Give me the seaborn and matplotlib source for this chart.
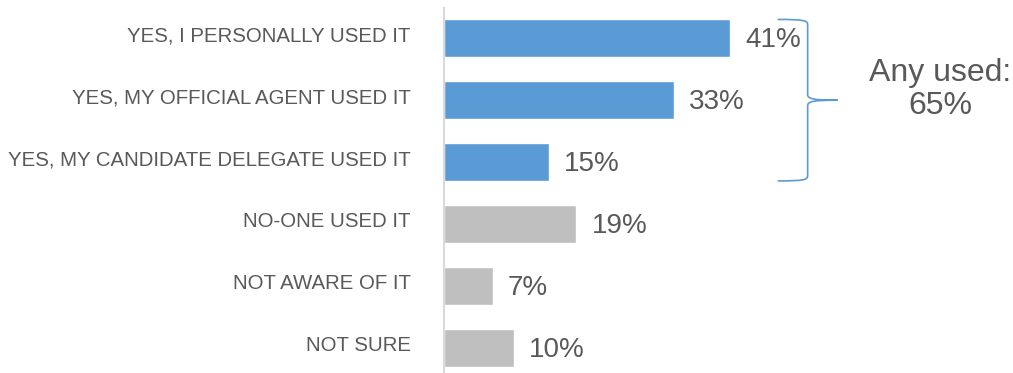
import matplotlib
matplotlib.use("Agg")
import matplotlib.pyplot as plt
import matplotlib.transforms as mtransforms
from matplotlib.path import Path
from matplotlib.patches import PathPatch
import seaborn as sns

categories = [
    "YES, I PERSONALLY USED IT",
    "YES, MY OFFICIAL AGENT USED IT",
    "YES, MY CANDIDATE DELEGATE USED IT",
    "NO-ONE USED IT",
    "NOT AWARE OF IT",
    "NOT SURE",
]
values = [41, 33, 15, 19, 7, 10]
groups = ["used", "used", "used", "other", "other", "other"]
summary_label = "Any used:\n65%"

group_colors = {"used": "#5B9BD5", "other": "#BFBFBF"}
text_color = "#595959"

sns.set_theme(style="white")
plt.rcParams["font.family"] = ["Liberation Sans", "DejaVu Sans"]

dpi = 100
fig = plt.figure(figsize=(1013 / dpi, 373 / dpi), dpi=dpi)
ax = fig.add_axes([444 / 1013, 0.0, 418 / 1013, 1 - 8 / 373])

bar_h = 0.61
palette = [group_colors[g] for g in groups]
sns.barplot(x=values, y=categories, hue=categories, palette=palette,
            legend=False, orient="h", width=bar_h, ax=ax, saturation=1)

for cont in ax.containers:
    texts = ax.bar_label(cont, labels=[f"{v:.0f}%" for v in cont.datavalues],
                         padding=11, fontsize=20, color=text_color)
    for t in texts:
        x_off, y_off = t.xyann
        t.xyann = (x_off, y_off - 1.5)

ax.set_xlim(0, 60)
ax.set_ylim(5.41, -0.49)
ax.set_xlabel("")
ax.set_ylabel("")
ax.set_xticks([])
ax.tick_params(axis="y", length=0, pad=24, labelsize=14.7, labelcolor=text_color)
shift_up = mtransforms.ScaledTranslation(0, 3 / 72, fig.dpi_scale_trans)
for lab in ax.get_yticklabels():
    lab.set_transform(lab.get_transform() + shift_up)
for side in ["top", "right", "bottom"]:
    ax.spines[side].set_visible(False)
ax.spines["left"].set_color("#D9D9D9")
ax.spines["left"].set_linewidth(1.5)

# Right curly brace grouping the three "yes" answers
n_used = groups.count("used")
y0 = -bar_h / 2
y1 = (n_used - 1) + bar_h / 2
ym = (y0 + y1) / 2
xl, xs, xt = 47.9, 52.2, 56.5
c = 0.09
verts = [
    (xl, y0), (xs - 0.3, y0), (xs, y0 + 0.02), (xs, y0 + c),
    (xs, ym - c),
    (xs, ym - 0.02), (xs + 0.8, ym), (xt, ym),
    (xs + 0.8, ym), (xs, ym + 0.02), (xs, ym + c),
    (xs, y1 - c),
    (xs, y1 - 0.02), (xs - 0.3, y1), (xl, y1),
]
codes = [
    Path.MOVETO, Path.CURVE4, Path.CURVE4, Path.CURVE4,
    Path.LINETO,
    Path.CURVE4, Path.CURVE4, Path.CURVE4,
    Path.CURVE4, Path.CURVE4, Path.CURVE4,
    Path.LINETO,
    Path.CURVE4, Path.CURVE4, Path.CURVE4,
]
ax.add_patch(PathPatch(Path(verts, codes), facecolor="none",
                       edgecolor="#5B9BD5", linewidth=1.2, clip_on=False))

ax.text(71.2, 0.83, summary_label, ha="center", va="center", fontsize=23,
        color=text_color, linespacing=1.15, clip_on=False)

fig.savefig("out.png", dpi=dpi)
